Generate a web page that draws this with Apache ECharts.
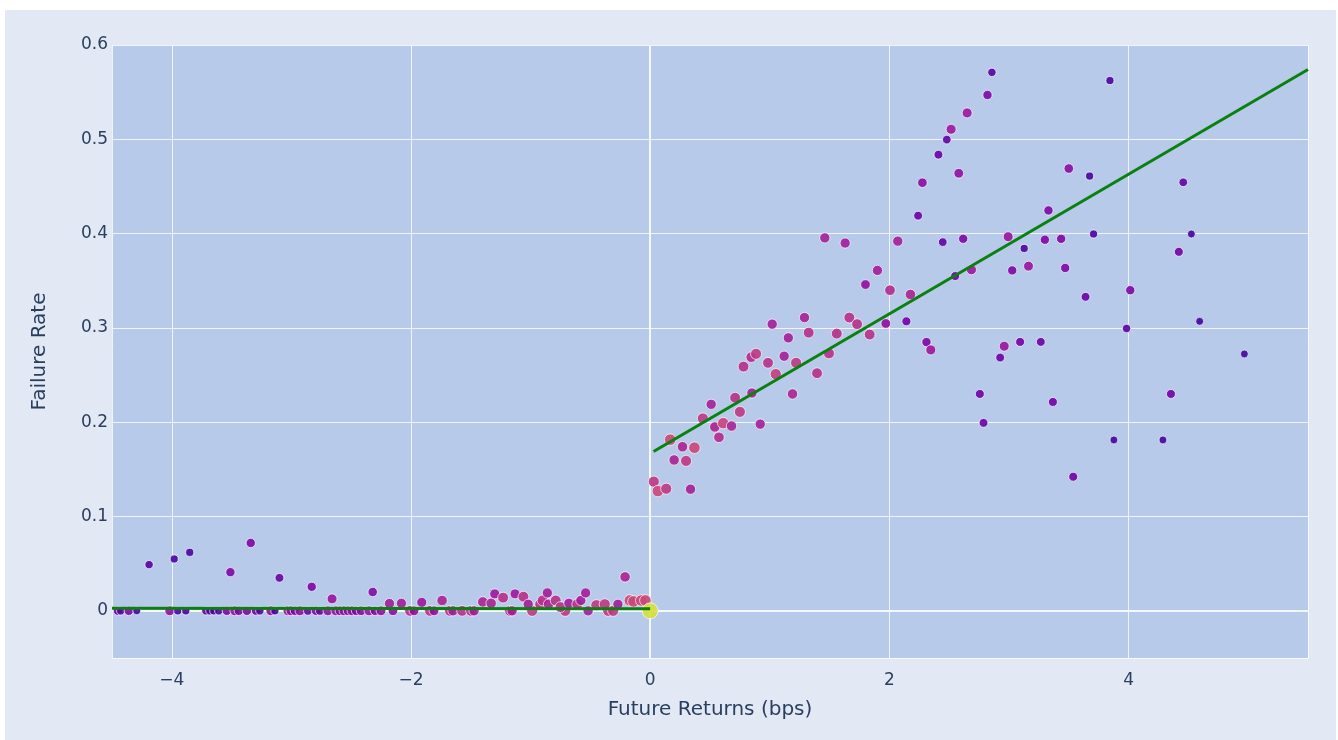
<!DOCTYPE html>
<html><head><meta charset="utf-8">
<script src="https://cdn.jsdelivr.net/npm/echarts@6/dist/echarts.min.js"></script>
<style>
html,body{margin:0;padding:0;background:#fff;width:1338px;height:740px;overflow:hidden}
#bg{position:absolute;left:5px;top:10px;width:1331px;height:730px;background:#e2e9f5}
#chart{position:absolute;left:0;top:0;width:1338px;height:740px}
</style></head>
<body><div id="bg"></div><div id="chart"></div>
<script>
// Future returns (bps)
const xs = [
 -4.452,-4.427,-4.36,-4.293,-4.017,-3.95,-3.883,-3.715,-3.682,-3.649,-3.607,-3.54,-3.473,-3.44,-3.372,-3.297,-3.264,-3.172,-3.138,-3.029,
 -3.004,-2.971,-2.929,-2.862,-2.795,-2.762,-2.695,-2.628,-2.594,-2.561,-2.527,-2.494,-2.46,-2.418,-2.351,-2.301,-2.251,-2.151,-2.008,-1.975,
 -1.841,-1.808,-1.674,-1.649,-1.573,-1.498,-1.473,-1.172,-1.155,-0.987,-0.711,-0.519,-0.351,-0.310,
 -4.19,-3.98,-3.85,-3.51,-3.34,-3.10,-2.83,-2.66,-2.32,-2.18,-2.08,-1.91,-1.74,-1.40,-1.33,-1.30,-1.23,-1.13,-1.06,-1.02,
 -0.92,-0.90,-0.86,-0.85,-0.79,-0.75,-0.68,-0.61,-0.58,-0.54,-0.45,-0.38,-0.27,-0.21,-0.17,-0.14,-0.075,-0.04,0,
 0.03,0.064,0.134,0.167,0.20,0.27,0.30,0.337,0.37,0.44,0.51,0.54,0.575,0.61,0.68,0.71,0.75,0.78,0.845,0.85,
 0.885,0.92,0.985,1.02,1.05,1.12,1.155,1.19,1.22,1.29,1.325,1.395,1.46,1.495,1.56,1.63,1.665,1.73,1.80,1.835,
 1.90,1.97,2.005,2.07,2.142,2.176,2.24,2.276,2.31,2.346,2.41,2.446,2.48,2.516,2.55,2.58,2.617,2.65,2.686,2.756,
 2.787,2.82,2.857,2.926,2.96,2.993,3.027,3.093,3.127,3.163,3.266,3.30,3.33,3.367,3.436,3.47,3.50,3.537,3.64,3.674,
 3.707,3.844,3.877,3.983,4.014,4.287,4.354,4.42,4.457,4.525,4.594,4.968
];
// Failure rate
const ys = [
 0,0,0,0,0,0,0,0,0,0,0,0,0,0,0,0,0,0,0,0,
 0,0,0,0,0,0,0,0,0,0,0,0,0,0,0,0,0,0,0,0,
 0,0,0,0,0,0,0,0,0,0,0,0,0,0,
 0.049,0.055,0.062,0.041,0.072,0.035,0.0255,0.0127,0.020,0.0078,0.008,0.009,0.011,0.0095,0.008,0.018,0.014,0.018,0.015,0.007,
 0.007,0.011,0.019,0.007,0.011,0.004,0.008,0.007,0.011,0.019,0.006,0.007,0.007,0.036,0.011,0.010,0.011,0.011,0,
 0.137,0.127,0.1295,0.1815,0.160,0.174,0.159,0.129,0.173,0.204,0.219,0.195,0.184,0.199,0.196,0.226,0.211,0.259,0.269,0.231,
 0.2725,0.198,0.263,0.304,0.251,0.270,0.2895,0.230,0.263,0.311,0.295,0.252,0.3955,0.273,0.294,0.390,0.311,0.304,0.346,0.293,
 0.361,0.3047,0.340,0.392,0.307,0.3355,0.419,0.454,0.285,0.2767,0.4837,0.391,0.4997,0.5106,0.355,0.464,0.3945,0.528,0.3617,0.230,
 0.1993,0.547,0.571,0.2686,0.2806,0.3967,0.361,0.2852,0.3843,0.3655,0.2852,0.3935,0.4246,0.2215,0.3945,0.3636,0.469,0.1422,0.333,0.461,
 0.3996,0.5623,0.1812,0.2994,0.340,0.1812,0.230,0.3807,0.4544,0.3996,0.307,0.2724
];
// Relative sample weight (drives colour and size)
const ws = [
 0.2,0.15,0.25,0.1,0.3,0.12,0.12,0.15,0.15,0.12,0.15,0.25,0.3,0.25,0.25,0.2,0.15,0.3,0.12,0.3,
 0.3,0.25,0.3,0.2,0.25,0.2,0.3,0.3,0.28,0.3,0.28,0.3,0.25,0.28,0.32,0.25,0.3,0.28,0.42,0.3,
 0.42,0.3,0.42,0.35,0.42,0.42,0.35,0.42,0.35,0.45,0.45,0.35,0.45,0.45,
 0.15,0.12,0.12,0.25,0.25,0.2,0.25,0.32,0.27,0.35,0.35,0.33,0.38,0.38,0.38,0.33,0.42,0.33,0.42,0.35,
 0.42,0.42,0.35,0.38,0.42,0.42,0.35,0.42,0.35,0.35,0.45,0.45,0.35,0.38,0.5,0.5,0.5,0.5,1.0,
 0.45,0.5,0.45,0.5,0.38,0.38,0.45,0.36,0.5,0.45,0.36,0.38,0.4,0.48,0.38,0.42,0.45,0.42,0.4,0.36,
 0.45,0.36,0.42,0.36,0.47,0.36,0.36,0.38,0.45,0.36,0.42,0.42,0.36,0.42,0.42,0.35,0.42,0.42,0.3,0.42,
 0.35,0.3,0.4,0.36,0.22,0.38,0.2,0.28,0.25,0.33,0.2,0.18,0.18,0.33,0.22,0.3,0.25,0.33,0.33,0.22,
 0.2,0.25,0.15,0.2,0.32,0.32,0.25,0.22,0.12,0.32,0.2,0.25,0.25,0.22,0.25,0.25,0.28,0.22,0.2,0.12,
 0.12,0.12,0.1,0.15,0.25,0.1,0.22,0.22,0.18,0.1,0.1,0.1
];
// Piecewise linear fit
const fitLeftX = [-4.5, 0];
const fitLeftY = [0.0028, 0.0022];
const fitRightX = [0.028, 5.5];
const fitRightY = [0.169, 0.574];
// Tick labels
const xTicks = [-4, -2, 0, 2, 4];
const yTicks = [0, 0.1, 0.2, 0.3, 0.4, 0.5, 0.6];

const points = xs.map((x, i) => [x, ys[i], ws[i]]);
const plasma = ['#0d0887','#46039f','#7201a8','#9c179e','#bd3786','#d8576b','#ed7953','#fb9f3a','#e8cb30','#d6df3c'];
const FONT = '"DejaVu Sans", Verdana, sans-serif';
const TXT = '#2a3f5f';

const chart = echarts.init(document.getElementById('chart'));
chart.setOption({
  backgroundColor: 'transparent',
  animation: false,
  textStyle: { fontFamily: FONT },
  grid: { left: 112, right: 30, top: 45, bottom: 82, show: true, backgroundColor: '#b7cae9', borderWidth: 0 },
  visualMap: [{
    show: false, seriesIndex: 1, dimension: 2, min: 0, max: 1,
    inRange: { color: plasma, symbolSize: [7, 16] }
  }],
  xAxis: {
    type: 'value', min: -4.5, max: 5.5, splitNumber: 5,
    name: 'Future Returns (bps)', nameLocation: 'middle', nameGap: 42,
    nameTextStyle: { color: TXT, fontSize: 20, fontFamily: FONT },
    axisLine: { show: false }, axisTick: { show: false },
    axisLabel: { color: TXT, fontSize: 17, margin: 14, fontFamily: FONT,
      formatter: v => xTicks.some(t => Math.abs(t - v) < 1e-9) ? String(Math.round(v)).replace('-', '\u2212') : '' },
    splitLine: { show: true, lineStyle: { color: 'rgba(255,255,255,0.8)', width: 1 } }
  },
  yAxis: {
    type: 'value', min: -0.05, max: 0.6, splitNumber: 7,
    name: 'Failure Rate', nameLocation: 'middle', nameGap: 62, nameRotate: 90,
    nameTextStyle: { color: TXT, fontSize: 20, fontFamily: FONT },
    axisLine: { show: false }, axisTick: { show: false },
    axisLabel: { color: TXT, fontSize: 17, margin: 4, fontFamily: FONT,
      formatter: v => {
        const t = yTicks.find(t => Math.abs(t - v) < 1e-9);
        return t === undefined ? '' : (t === 0 ? '0' : t.toFixed(1));
      } },
    splitLine: { show: true, lineStyle: { color: 'rgba(255,255,255,0.8)', width: 1 } }
  },
  series: [
    {
      type: 'line', data: [], z: 1, silent: true,
      markLine: {
        z: 1, silent: true, symbol: 'none', animation: false,
        label: { show: false },
        lineStyle: { color: '#f4f7fc', width: 2, type: 'solid' },
        data: [{ xAxis: 0 }, { yAxis: 0 }]
      }
    },
    {
      type: 'scatter', data: points, z: 2,
      itemStyle: { opacity: 0.9, borderColor: 'rgba(255,255,255,0.75)', borderWidth: 1 }
    },
    {
      type: 'line', data: fitLeftX.map((x, i) => [x, fitLeftY[i]]), z: 3,
      symbol: 'none', lineStyle: { color: '#0a800f', width: 3 }, silent: true
    },
    {
      type: 'line', data: fitRightX.map((x, i) => [x, fitRightY[i]]), z: 3,
      symbol: 'none', lineStyle: { color: '#0a800f', width: 3 }, silent: true
    }
  ]
});
</script>
</body></html>
